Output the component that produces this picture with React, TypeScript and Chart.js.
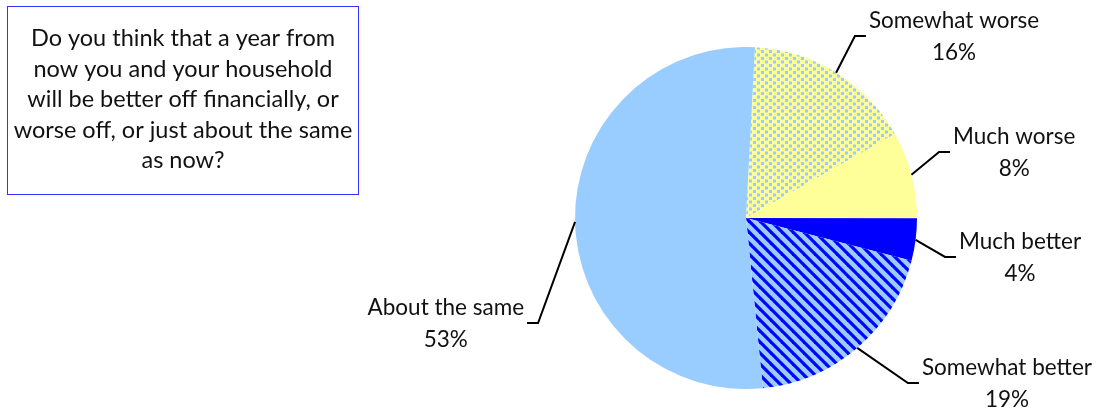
import React, { useEffect, useRef } from "react";
import { Chart, registerables } from "chart.js";

Chart.register(...registerables);

// ---- data ----
const categories = ["Somewhat worse", "Much worse", "Much better", "Somewhat better", "About the same"];
const shares = [16.0, 8.2, 4.0, 19.4, 52.4];
const percentLabels = ["16%", "8%", "4%", "19%", "53%"];
const questionLines = [
  "Do you think that a year from",
  "now you and your household",
  "will be better off financially, or",
  "worse off, or just about the same",
  "as now?",
];

// ---- label layout (elbow of leader, in pie-radius units from centre) ----
const labelElbows: [number, number][] = [
  [0.637, -1.064],
  [1.129, -0.386],
  [1.164, 0.228],
  [0.947, 0.965],
  [-1.216, 0.614],
];

const LABEL_FONT = '22.5px Lato, "Open Sans", sans-serif';
const BOX_FONT = '23.5px Lato, "Open Sans", sans-serif';
const TEXT_COLOR = "#111111";

function makeDotPattern(): CanvasPattern | string {
  const w = 8;
  const h = 7;
  const c = document.createElement("canvas");
  c.width = w;
  c.height = h;
  const x = c.getContext("2d");
  if (!x) return "#FFFF99";
  x.fillStyle = "#FFFF99";
  x.fillRect(0, 0, w, h);
  x.fillStyle = "#99CCFF";
  x.fillRect(1, 1, 3, 3);
  x.fillRect(5, 4.5, 3, 3);
  x.fillRect(5, -2.5, 3, 3);
  return x.createPattern(c, "repeat") as CanvasPattern;
}

function makeStripePattern(): CanvasPattern | string {
  const p = 11;
  const c = document.createElement("canvas");
  c.width = p;
  c.height = p;
  const x = c.getContext("2d");
  if (!x) return "#99CCFF";
  x.fillStyle = "#99CCFF";
  x.fillRect(0, 0, p, p);
  x.strokeStyle = "#0000FF";
  x.lineWidth = 3.2;
  for (let k = -1; k <= 1; k++) {
    x.beginPath();
    x.moveTo(-2, -2 + k * p);
    x.lineTo(p + 2, p + 2 + k * p);
    x.stroke();
  }
  return x.createPattern(c, "repeat") as CanvasPattern;
}

const labelPlugin = {
  id: "labelPlugin",
  afterDraw(chart: any) {
    const ctx: CanvasRenderingContext2D = chart.ctx;
    ctx.save();

    // question box
    ctx.strokeStyle = "#3333FF";
    ctx.lineWidth = 1;
    ctx.strokeRect(7.5, 6.5, 351, 188);
    ctx.font = BOX_FONT;
    ctx.fillStyle = TEXT_COLOR;
    ctx.textAlign = "center";
    ctx.textBaseline = "alphabetic";
    questionLines.forEach((line, i) => {
      ctx.fillText(line, 183, 46 + i * 30.5);
    });

    // slice labels with leaders
    const meta = chart.getDatasetMeta(0);
    meta.data.forEach((arc: any, i: number) => {
      const { x: cx, y: cy, outerRadius: r, startAngle, endAngle } = arc.getProps(
        ["x", "y", "outerRadius", "startAngle", "endAngle"],
        true
      );
      const mid = (startAngle + endAngle) / 2;
      const sx = cx + Math.cos(mid) * r;
      const sy = cy + Math.sin(mid) * r;
      const ex = cx + labelElbows[i][0] * r;
      const ey = cy + labelElbows[i][1] * r;
      const right = labelElbows[i][0] >= 0;
      const hx = ex + (right ? 11 : -11);

      ctx.strokeStyle = "#000000";
      ctx.lineWidth = 2;
      ctx.beginPath();
      ctx.moveTo(sx, sy);
      ctx.lineTo(ex, ey);
      ctx.lineTo(hx, ey);
      ctx.stroke();

      ctx.font = LABEL_FONT;
      ctx.fillStyle = TEXT_COLOR;
      ctx.textAlign = "center";
      const lines = [categories[i], percentLabels[i]];
      const w = Math.max(...lines.map((l) => ctx.measureText(l).width));
      const bx = right ? hx + 3 + w / 2 : hx - 3 - w / 2;
      ctx.fillText(lines[0], bx, ey - 8);
      ctx.fillText(lines[1], bx, ey + 24);
    });

    ctx.restore();
  },
};

export default function App() {
  const ref = useRef<HTMLCanvasElement | null>(null);

  useEffect(() => {
    if (!ref.current) return;
    const colors = [makeDotPattern(), "#FFFF99", "#0000FF", makeStripePattern(), "#99CCFF"];
    const chart = new Chart(ref.current, {
      type: "pie",
      data: {
        labels: categories,
        datasets: [
          {
            data: shares,
            backgroundColor: colors as any,
            borderWidth: 0,
          },
        ],
      },
      options: {
        responsive: false,
        animation: false,
        rotation: 3,
        layout: { padding: { left: 575, right: 180, top: 47, bottom: 19 } },
        plugins: {
          legend: { display: false },
          tooltip: { enabled: false },
          title: { display: false },
        },
      },
      plugins: [labelPlugin],
    });
    return () => chart.destroy();
  }, []);

  return (
    <canvas
      ref={ref}
      width={1097}
      height={408}
      style={{ position: "absolute", left: 0, top: 0, display: "block" }}
    />
  );
}
